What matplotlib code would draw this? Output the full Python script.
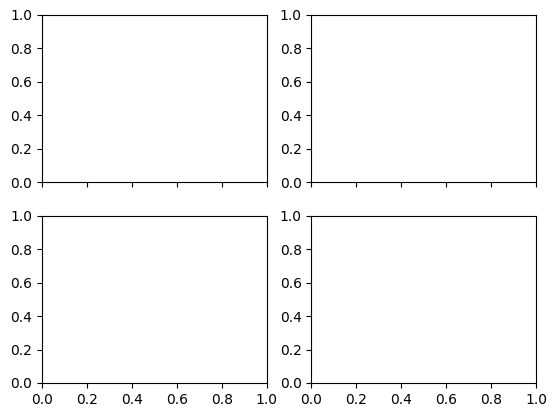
import matplotlib
matplotlib.use("Agg")
import matplotlib.pyplot as plt

xlim = (0.0, 1.0)
ylim = (0.0, 1.0)

fig, axs = plt.subplots(2, 2, sharex=True, figsize=(5.58, 4.18), dpi=100)
fig.subplots_adjust(left=42/558, right=536/558, top=1-15/418, bottom=1-383/418,
                    wspace=0.2, hspace=0.2)
for ax in axs.flat:
    ax.set_xlim(*xlim)
    ax.set_ylim(*ylim)
fig.savefig("out.png", dpi=100)
